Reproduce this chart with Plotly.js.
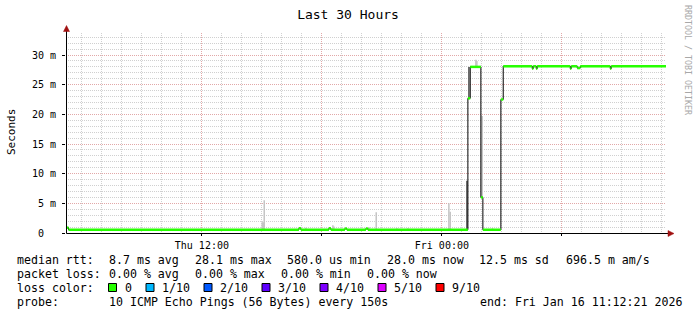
<!DOCTYPE html>
<html>
<head>
<meta charset="utf-8">
<script src="https://cdn.plot.ly/plotly-3.0.1.min.js"></script>
<style>
html,body{margin:0;padding:0;background:#fff;}
#chart{width:697px;height:315px;}
</style>
</head>
<body>
<div id="chart"></div>
<script>
// ---- data (values in milliseconds) ----
const rangeStart = '2026-01-15 05:12:21';
const rangeEnd   = '2026-01-16 11:12:21';

// median rtt, step values (each value holds until the next time)
const medianTimes = [
  '2026-01-15 05:12:21','2026-01-15 05:20',
  '2026-01-15 16:51','2026-01-15 16:57',
  '2026-01-15 18:21','2026-01-15 18:27',
  '2026-01-15 19:09','2026-01-15 19:15',
  '2026-01-15 20:12','2026-01-15 20:18',
  '2026-01-16 01:18','2026-01-16 01:25',
  '2026-01-16 01:57','2026-01-16 02:03',
  '2026-01-16 02:57','2026-01-16 03:04',
  '2026-01-16 04:31','2026-01-16 04:34',
  '2026-01-16 04:43','2026-01-16 04:46',
  '2026-01-16 06:25','2026-01-16 06:28',
  '2026-01-16 06:46','2026-01-16 06:55',
  '2026-01-16 08:25','2026-01-16 08:28'
];
const medianValues = [
  0.9, 0.55,
  0.8, 0.55,
  0.8, 0.55,
  0.75, 0.55,
  0.75, 0.55,
  22.7, 28.0,
  6.0, 0.55,
  22.5, 28.1,
  27.7, 28.1,
  27.7, 28.1,
  27.7, 28.1,
  27.8, 28.1,
  27.7, 28.1
];

// smoke (spread of the 10 pings), light shade
const smokeTimes = [
  '2026-01-15 15:01','2026-01-15 15:04','2026-01-15 15:07',
  '2026-01-15 17:12','2026-01-15 18:33','2026-01-15 18:36',
  '2026-01-15 20:21','2026-01-15 20:43','2026-01-15 21:45',
  '2026-01-15 22:18','2026-01-16 00:21','2026-01-16 00:25',
  '2026-01-16 01:42','2026-01-16 01:45',
  '2026-01-16 01:59','2026-01-16 02:01',
  '2026-01-16 02:32'
];
const smokeLow = [
  0.55, 0.55, 0.55,
  0.55, 0.55, 0.55,
  0.55, 0.55, 0.55,
  0.55, 0.55, 0.55,
  28.0, 28.0,
  6.0, 6.0,
  0.55
];
const smokeHigh = [
  1.8, 1.8, 5.5,
  0.9, 1.3, 1.1,
  1.0, 3.5, 0.8,
  0.8, 5.0, 3.6,
  29.2, 29.0,
  19.7, 19.7,
  0.8
];
// smoke, dark shade
const darkSmokeTimes = ['2026-01-16 01:15','2026-01-16 01:21'];
const darkSmokeLow   = [0.55, 22.7];
const darkSmokeHigh  = [8.8, 28.0];

const yTickVals   = [0, 5, 10, 15, 20, 25, 30];
const yTickLabels = ['0\u00a0\u00a0', '5 m', '10 m', '15 m', '20 m', '25 m', '30 m'];
const xTickVals   = ['2026-01-15 12:00','2026-01-15 18:00','2026-01-16 00:00','2026-01-16 06:00'];
const xTickLabels = ['Thu 12:00', '', 'Fri 00:00', ''];

const lossLabels = ['0', '1/10', '2/10', '3/10', '4/10', '5/10', '9/10'];
const lossColors = ['#26ff00', '#00b8ff', '#0059ff', '#5e00ff', '#7e00ff', '#dd00ff', '#ff0000'];

const statLines = [
  ['median rtt:', '8.7 ms avg', '28.1 ms max', '580.0 us min', '28.0 ms now', '12.5 ms sd', '696.5 m am/s'],
  ['packet loss:', '0.00 % avg', '0.00 % max', '0.00 % min', '0.00 % now'],
];
const probeLabel = 'probe:';
const probeText = '10 ICMP Echo Pings (56 Bytes) every 150s';
const endText = 'end: Fri Jan 16 11:12:21 2026';

// ---- layout geometry (pixels) ----
const W = 697, H = 315;
const L = 66, R = 31, T = 33, B = 82;
const PW = W - L - R, PH = H - T - B;
const X = px => (px - L) / PW;
const Y = py => (T + PH - py) / PH;
const MONO = 'DejaVu Sans Mono';

// ---- traces ----
const barMs = 270000;
const smokeTrace = {
  type: 'bar', x: smokeTimes,
  base: smokeLow, y: smokeHigh.map((h, i) => h - smokeLow[i]),
  width: smokeTimes.map(() => barMs),
  marker: {color: '#c4c4c4', line: {width: 0}}, hoverinfo: 'skip'
};
const darkSmokeTrace = {
  type: 'bar', x: darkSmokeTimes,
  base: darkSmokeLow, y: darkSmokeHigh.map((h, i) => h - darkSmokeLow[i]),
  width: darkSmokeTimes.map(() => barMs),
  marker: {color: '#555555', line: {width: 0}}, hoverinfo: 'skip'
};
const blackStep = {
  type: 'scatter', mode: 'lines',
  x: medianTimes.concat([rangeEnd]),
  y: medianValues.concat([medianValues[medianValues.length - 1]]),
  line: {shape: 'hv', color: '#000000', width: 1}, hoverinfo: 'skip'
};
const gx = [], gy = [];
for (let i = 0; i < medianTimes.length; i++) {
  const t1 = i + 1 < medianTimes.length ? medianTimes[i + 1] : rangeEnd;
  gx.push(medianTimes[i], t1, null);
  gy.push(medianValues[i], medianValues[i], null);
}
const greenTrace = {
  type: 'scatter', mode: 'lines', x: gx, y: gy, connectgaps: false,
  line: {color: lossColors[0], width: 2.5}, hoverinfo: 'skip'
};

// ---- annotations & shapes ----
const annotations = [];
const shapes = [];
function txt(s, px, py, extra) {
  annotations.push(Object.assign({
    text: s, xref: 'paper', yref: 'paper', x: X(px), y: Y(py),
    xanchor: 'left', yanchor: 'middle', showarrow: false,
    borderpad: 0, font: {family: MONO, size: 11.6, color: '#000'}
  }, extra || {}));
}
const lineY = [259.5, 273.5, 287.5, 301.5];
const statX = [
  [16, 107.5, 193.5, 286, 385.5, 478, 564.5],
  [16, 107.5, 193.5, 279.5, 365.5]
];
statLines.forEach((row, r) => row.forEach((s, c) => txt(s, statX[r][c], lineY[r])));

txt('loss color:', 16, lineY[2]);
const sqX = [108, 145.5, 203.5, 261.5, 319.5, 377.5, 435.5];
lossLabels.forEach((lab, i) => {
  shapes.push({type: 'rect', xref: 'paper', yref: 'paper',
    x0: X(sqX[i] + 0.5), x1: X(sqX[i] + 8.5), y0: Y(lineY[2] + 4), y1: Y(lineY[2] - 4),
    fillcolor: lossColors[i], line: {color: '#000', width: 1}, layer: 'above'});
  txt(lab, sqX[i] + 15.5, lineY[2]);
});
txt(probeLabel, 16, lineY[3]);
txt(probeText, 107.5, lineY[3]);
txt(endText, 478.5, lineY[3]);

// y axis title
annotations.push({text: 'Seconds', xref: 'paper', yref: 'paper', x: X(11), y: Y(132),
  xanchor: 'center', yanchor: 'middle', textangle: -90, showarrow: false,
  font: {family: MONO, size: 11, color: '#000'}});
// watermark
annotations.push({text: 'RRDTOOL / TOBI OETIKER', xref: 'paper', yref: 'paper', x: X(688), y: Y(60),
  xanchor: 'center', yanchor: 'middle', textangle: 90, showarrow: false,
  font: {family: MONO, size: 8.3, color: '#a8a8a8'}});

// axis lines with arrows
shapes.push({type: 'line', xref: 'paper', yref: 'paper', x0: X(66.5), x1: X(668), y0: Y(233.5), y1: Y(233.5),
  line: {color: '#000', width: 1}, layer: 'above'});
shapes.push({type: 'line', xref: 'paper', yref: 'paper', x0: X(66.5), x1: X(66.5), y0: Y(233.5), y1: Y(31),
  line: {color: '#000', width: 1}, layer: 'above'});
shapes.push({type: 'path', xref: 'paper', yref: 'paper',
  path: `M ${X(668)} ${Y(230.5)} L ${X(674)} ${Y(233.5)} L ${X(668)} ${Y(236.5)} Z`,
  fillcolor: '#a01010', line: {color: '#a01010', width: 0.5}, layer: 'above'});
shapes.push({type: 'path', xref: 'paper', yref: 'paper',
  path: `M ${X(63.5)} ${Y(31.5)} L ${X(66.5)} ${Y(25.5)} L ${X(69.5)} ${Y(31.5)} Z`,
  fillcolor: '#a01010', line: {color: '#a01010', width: 0.5}, layer: 'above'});

const minorGrid = '#d0d0d0', majorGrid = '#e2a8a8';
const layout = {
  width: W, height: H,
  margin: {l: L, r: R, t: T, b: B, pad: 0},
  paper_bgcolor: '#ffffff', plot_bgcolor: '#ffffff',
  showlegend: false, barmode: 'overlay', hovermode: false,
  title: {text: 'Last 30 Hours', x: 348 / W, xanchor: 'center', y: 1 - 14 / H, yanchor: 'middle',
    font: {family: MONO, size: 13, color: '#000'}},
  xaxis: {
    type: 'date', range: [rangeStart, rangeEnd], fixedrange: true,
    tickmode: 'array', tickvals: xTickVals, ticktext: xTickLabels,
    ticks: 'outside', ticklen: 2, tickcolor: '#000', ticklabelstandoff: 1,
    tickfont: {family: MONO, size: 10, color: '#000'},
    showgrid: true, gridcolor: majorGrid, griddash: '1px,1px', gridwidth: 1,
    minor: {dtick: 3600000, tick0: '2026-01-15 06:00', showgrid: true,
      gridcolor: minorGrid, griddash: '1px,1px', gridwidth: 1, ticks: ''},
    showline: false, zeroline: false
  },
  yaxis: {
    range: [0, PH / 5.933], fixedrange: true,
    tickmode: 'array', tickvals: yTickVals, ticktext: yTickLabels,
    ticks: 'outside', ticklen: 3, tickcolor: '#000', ticklabelstandoff: 4,
    tickfont: {family: MONO, size: 10, color: '#000'},
    showgrid: true, gridcolor: majorGrid, griddash: '1px,1px', gridwidth: 1,
    minor: {dtick: 1, tick0: 0, showgrid: true,
      gridcolor: minorGrid, griddash: '1px,1px', gridwidth: 1, ticks: ''},
    showline: false, zeroline: false
  },
  annotations: annotations, shapes: shapes
};

Plotly.newPlot('chart', [smokeTrace, darkSmokeTrace, blackStep, greenTrace], layout,
  {staticPlot: true, displayModeBar: false});
</script>
</body>
</html>
